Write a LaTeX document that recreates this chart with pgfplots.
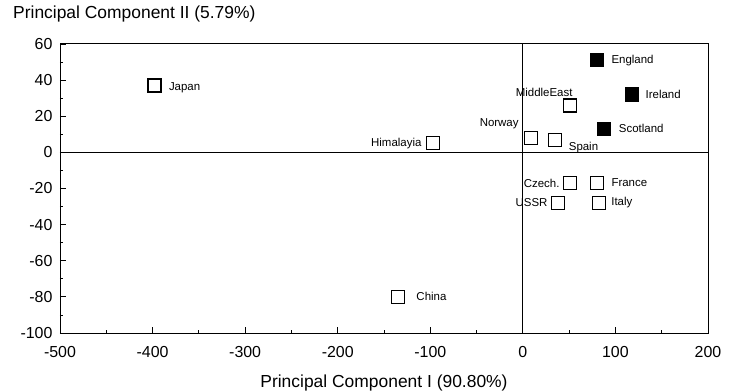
\documentclass[border=0pt]{standalone}
\usepackage{fontspec}
\setmainfont{Liberation Sans}
\usepackage{pgfplots}
\usepackage{pgfplotstable}
\pgfplotsset{compat=1.18}

% open squares, label to the right
\pgfplotstableread{
x y name dx dy
-398 37 Japan 14 -2
-135 -80 China 18 0
35 7 Spain 13 -8
80 -17 France 14 0
82 -28 Italy 12 0
}\openright

% open squares, label to the left
\pgfplotstableread{
x y name dx dy
-97 5 Himalayia -11 0
51 26 MiddleEast 3 13
9 8 Norway -12 14
51 -17 Czech. -10 0
38 -28 USSR -10 0
}\openleft

% filled squares, label to the right
\pgfplotstableread{
x y name dx dy
80 51 England 14 0
118 32 Ireland 13 0
88 13 Scotland 14 0
}\filleddata

\pgfplotsset{
  labelled/.style={
    visualization depends on={\thisrow{dx}\as\dx},
    visualization depends on={\thisrow{dy}\as\dy},
    nodes near coords,
    point meta=explicit symbolic,
    nodes near coords style={font=\fontsize{11.5}{11.5}\selectfont, anchor=#1, xshift=\dx bp, yshift=\dy bp, inner sep=0pt, text=black},
  }
}

\begin{document}
\begin{tikzpicture}
\begin{axis}[
  scale only axis, width=648bp, height=289bp,
  xmin=-500, xmax=200, ymin=-100, ymax=60,
  xtick={-500,-400,...,200}, ytick={-100,-80,...,60},
  minor x tick num=1, minor y tick num=1,
  tick align=inside, tick pos=left,
  major tick length=6bp, minor tick length=3.5bp,
  axis line style={line width=1pt},
  every tick/.style={black, line width=0.8pt},
  ticklabel style={font=\fontsize{16}{16}\selectfont},
  xticklabel style={anchor=center, yshift=-19bp},
  yticklabel style={xshift=-4bp},
  /pgf/number format/assume math mode=true,
  xlabel={Principal Component I (90.80\%)},
  xlabel style={font=\fontsize{17.5}{17.5}\selectfont, at={(rel axis cs:0.5,0)}, anchor=center, yshift=-50bp},
  clip=false,
]
\addplot[black, line width=1pt, forget plot] coordinates {(-500,0) (200,0)};
\addplot[black, line width=1pt, forget plot] coordinates {(0,-100) (0,60)};
\addplot[only marks, mark=square, mark size=6.5bp, mark options={black, line width=1.2pt}, labelled=west]
  table[x=x, y=y, meta=name] {\openright};
\addplot[only marks, mark=square, mark size=6.5bp, mark options={black, line width=1.2pt}, labelled=east]
  table[x=x, y=y, meta=name] {\openleft};
\addplot[only marks, mark=square*, mark size=6.5bp, mark options={black, fill=black, line width=1.2pt}, labelled=west]
  table[x=x, y=y, meta=name] {\filleddata};
\end{axis}
\node[anchor=west, inner sep=0pt, font=\fontsize{17.5}{17.5}\selectfont] at ([xshift=-47bp, yshift=30bp]current axis.north west) {Principal Component II (5.79\%)};
\pgfresetboundingbox
\path ([xshift=-60bp,yshift=44bp]current axis.north west) rectangle ([xshift=31bp,yshift=-59bp]current axis.south east);
\end{tikzpicture}
\end{document}
